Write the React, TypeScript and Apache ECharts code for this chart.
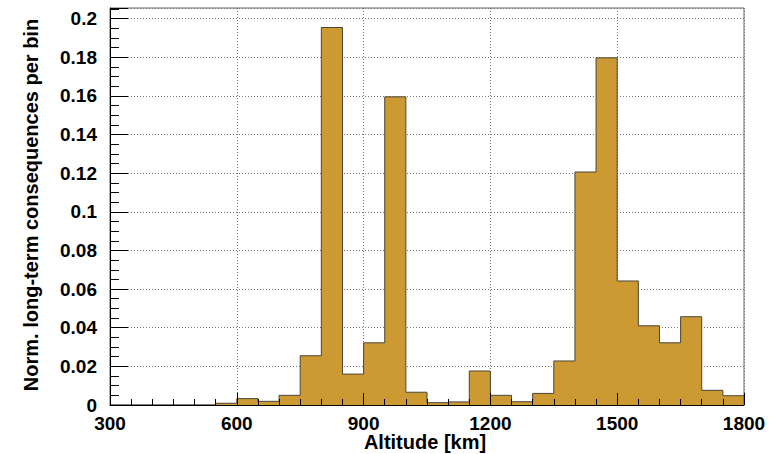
import React, { useEffect, useRef } from "react";
import * as echarts from "echarts";

const binStarts = [300, 350, 400, 450, 500, 550, 600, 650, 700, 750, 800, 850, 900, 950, 1000, 1050, 1100, 1150, 1200, 1250, 1300, 1350, 1400, 1450, 1500, 1550, 1600, 1650, 1700, 1750];
const binValues = [0, 0, 0, 0, 0, 0.0009, 0.0033, 0.0019, 0.005, 0.0255, 0.1954, 0.016, 0.0322, 0.1595, 0.0066, 0.0012, 0.0016, 0.0176, 0.005, 0.0017, 0.006, 0.0228, 0.1206, 0.1797, 0.0642, 0.041, 0.0322, 0.0457, 0.0076, 0.0048];
const binEnd = 1800;
const xTitle = "Altitude [km]";
const yTitle = "Norm. long-term consequences per bin";

const FONT = "'Liberation Sans', Arial, Helvetica, sans-serif";

export default function App() {
  const ref = useRef<HTMLDivElement>(null);
  useEffect(() => {
    if (!ref.current) return;
    const chart = echarts.init(ref.current, undefined, { renderer: "svg" });
    const stepData: number[][] = binStarts.map((s, i) => [s, binValues[i]]);
    stepData.push([binEnd, binValues[binValues.length - 1]]);
    stepData.push([binEnd, 0]);

    const gridL = 110, gridT = 8, gridR = 25, gridB = 49;
    const xMin = 300, xMax = 1800, yMin = 0, yMax = 0.2055;

    chart.setOption({
      animation: false,
      backgroundColor: "#ffffff",
      textStyle: { fontFamily: FONT },
      grid: { left: gridL, top: gridT, right: gridR, bottom: gridB, show: true, borderColor: "#666", borderWidth: 1, backgroundColor: "transparent" },
      xAxis: [
        {
          type: "value", min: xMin, max: xMax, interval: 300, z: 0,
          axisLine: { show: false }, axisTick: { show: false }, axisLabel: { show: false },
          splitLine: { show: true, lineStyle: { color: "#777", type: [1, 2], width: 1 } },
        },
        {
          type: "value", min: xMin, max: xMax, interval: 300, z: 10, position: "bottom",
          axisLine: { show: true, onZero: false, lineStyle: { color: "#000", width: 1 } },
          axisTick: { show: true, inside: true, length: 12, lineStyle: { color: "#000" } },
          minorTick: { show: true, splitNumber: 6, length: 6, lineStyle: { color: "#000" } },
          axisLabel: {
            show: true, margin: 9, color: "#000", fontSize: 19, fontWeight: "bold", fontFamily: FONT,
            formatter: (v: number) => String(Math.round(v)),
          },
          splitLine: { show: false },
        },
      ],
      yAxis: [
        {
          type: "value", min: yMin, max: yMax, interval: 0.02, z: 0,
          axisLine: { show: false }, axisTick: { show: false }, axisLabel: { show: false },
          splitLine: { show: true, lineStyle: { color: "#777", type: [1, 2], width: 1 } },
        },
        {
          type: "value", min: yMin, max: yMax, interval: 0.02, z: 10, position: "left",
          axisLine: { show: true, onZero: false, lineStyle: { color: "#000", width: 1 } },
          axisTick: { show: true, inside: true, length: 18, lineStyle: { color: "#000" } },
          minorTick: { show: true, splitNumber: 4, length: 9, lineStyle: { color: "#000" } },
          axisLabel: {
            show: true, margin: 13, color: "#000", fontSize: 19, fontWeight: "bold", fontFamily: FONT,
            showMaxLabel: false,
            formatter: (v: number) => {
              const r = Math.round(v * 100) / 100;
              if (Math.abs(r - v) > 1e-9) return "";
              return String(r);
            },
          },
          splitLine: { show: false },
        },
      ],
      series: [
        {
          type: "line",
          xAxisIndex: 0,
          yAxisIndex: 0,
          step: "end",
          data: stepData,
          showSymbol: false,
          symbol: "none",
          z: 2,
          lineStyle: { color: "#4a4636", width: 1 },
          areaStyle: { color: "#CC9933", opacity: 1 },
        },
      ],
      graphic: [
        {
          type: "text", x: 425, y: 442, z: 100,
          style: { text: xTitle, fill: "#000", font: `bold 20px ${FONT}`, textAlign: "center", textVerticalAlign: "middle" },
        },
        {
          type: "text", x: 31, y: 205, rotation: Math.PI / 2, z: 100,
          style: { text: yTitle, fill: "#000", font: `bold 20px ${FONT}`, textAlign: "center", textVerticalAlign: "middle" },
        },
      ],
    });
    return () => chart.dispose();
  }, []);
  return <div ref={ref} style={{ width: 769, height: 454, position: "absolute", left: 0, top: 0 }} />;
}
